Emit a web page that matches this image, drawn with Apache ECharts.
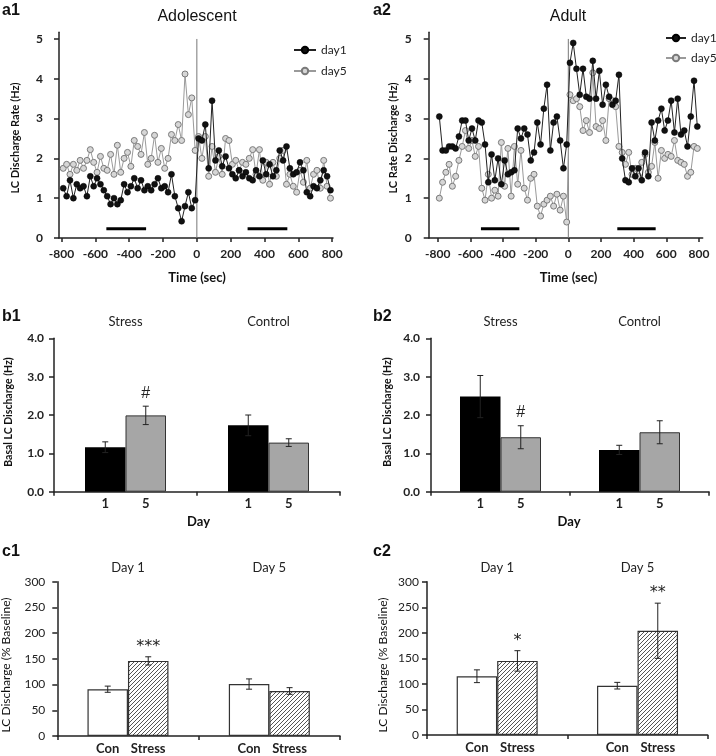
<!DOCTYPE html>
<html><head><meta charset="utf-8">
<script src="https://cdn.jsdelivr.net/npm/echarts@6/dist/echarts.min.js"></script>
<style>html,body{margin:0;padding:0;background:#fff}#c{width:716px;height:756px}</style>
</head><body><div id="c"></div>
<script>
// ---------- DATA ----------
const times = [-790,-770,-750,-730,-710,-690,-670,-650,-630,-610,-590,-570,-550,-530,-510,-490,-470,-450,-430,-410,-390,-370,-350,-330,-310,-290,-270,-250,-230,-210,-190,-170,-150,-130,-110,-90,-70,-50,-30,-10,
  10,30,50,70,90,110,130,150,170,190,210,230,250,270,290,310,330,350,370,390,410,430,450,470,490,510,530,550,570,590,610,630,650,670,690,710,730,750,770,790];
const timeTickLabels = [-800,-600,-400,-200,0,200,400,600,800];
const rateTickLabels = [0,1,2,3,4,5];
const a1Day1 = [1.25,1.05,1.45,1.0,1.35,1.25,1.3,1.05,1.55,1.3,1.5,1.35,1.2,1.05,0.85,1.0,0.85,0.95,1.35,1.15,1.3,1.5,1.25,1.45,1.2,1.3,1.2,1.35,1.5,1.25,1.3,1.15,1.6,1.05,0.75,0.42,0.8,1.15,0.75,0.95,
  2.5,2.45,2.85,1.75,3.45,1.95,2.2,1.8,2.05,1.75,1.6,1.5,1.7,1.55,1.65,1.5,1.45,1.7,1.55,1.95,1.6,1.85,1.55,1.7,2.2,1.95,2.3,1.75,1.6,1.65,1.9,1.7,1.15,1.05,1.3,1.25,1.45,1.7,1.55,1.2];
const a1Day5 = [1.75,1.85,1.6,1.85,1.7,1.95,1.75,1.95,2.22,1.9,1.65,2.05,1.75,1.7,2.1,1.6,2.33,1.65,2.0,2.15,1.8,2.45,2.3,2.1,2.65,1.85,2.0,2.58,1.9,2.25,1.75,2.0,2.6,2.45,2.85,2.45,4.12,3.1,3.52,2.2,
  2.55,2.0,2.55,1.55,2.3,1.65,2.05,1.6,2.5,2.45,1.85,1.95,1.7,1.9,1.85,2.0,2.22,1.6,2.22,1.45,1.9,1.35,1.9,1.55,2.0,2.2,1.35,1.6,1.3,1.15,1.7,1.4,1.95,1.25,1.6,1.7,1.25,1.95,1.3,1.0];
const a2Day1 = [3.05,2.2,2.2,2.3,2.3,2.25,2.55,2.95,2.95,2.45,2.75,2.45,2.95,2.9,2.35,1.4,2.1,1.45,2.0,1.35,1.95,1.6,1.65,1.7,2.75,2.5,2.75,2.6,1.95,2.15,2.9,2.35,3.25,3.85,2.2,2.9,3.05,2.45,1.75,2.35,
  4.4,4.9,4.25,3.6,4.25,3.55,3.5,4.45,3.5,4.2,3.35,3.85,3.55,3.35,3.45,4.1,2.0,1.45,1.4,1.75,1.55,1.75,1.45,2.15,1.55,2.9,2.45,2.95,3.25,2.7,2.95,3.45,2.65,3.5,2.6,2.7,2.3,3.05,3.95,2.8];
const a2Day5 = [1.0,1.4,1.65,1.85,1.3,1.55,1.95,2.3,2.7,2.25,2.45,2.05,2.3,1.25,0.95,1.6,1.0,1.2,1.05,2.4,1.3,2.25,1.05,2.3,1.35,2.2,1.25,0.95,1.5,1.6,0.8,0.55,0.85,0.95,1.05,0.8,1.1,0.7,1.05,0.4,
  3.6,3.45,3.5,3.3,2.7,2.95,2.65,4.15,2.8,2.75,2.95,2.45,3.5,3.45,3.3,2.3,2.15,1.85,2.15,1.6,1.75,1.55,1.9,2.1,1.65,1.8,2.4,1.5,2.2,2.0,2.1,2.05,2.45,1.95,1.9,1.85,1.55,1.65,2.3,2.25];
const stimTime = [0, 0];
const stimRange = [0, 5];
const baselineWindow = [-535, -300];
const postWindow = [300, 535];
const windowLevel = 0.23;

const bCats = ['Stress', 'Control'];
const b1Day1 = [1.16, 1.73], b1Day1Err = [0.14, 0.27];
const b1Day5 = [1.99, 1.28], b1Day5Err = [0.24, 0.10];
const b2Day1 = [2.48, 1.09], b2Day1Err = [0.55, 0.12];
const b2Day5 = [1.42, 1.55], b2Day5Err = [0.30, 0.30];
const b1Marks = ['#', ''], b2Marks = ['#', ''];

const cCats = ['Day 1', 'Day 5'];
const c1Con = [91, 101], c1ConErr = [6, 10];
const c1Stress = [146, 87.5], c1StressErr = [8, 6.5];
const c2Con = [115, 96.5], c2ConErr = [12.5, 6.5];
const c2Stress = [145, 204], c2StressErr = [20, 54];
const c1Marks = ['***', ''], c2Marks = ['*', '**'];

// ---------- STYLE / HELPERS ----------
const FONT = 'Lato, "Open Sans", sans-serif';
const AX = '#222';
const BW = 40.5;

function hatch() {
  const c = document.createElement('canvas'); c.width = 4; c.height = 4;
  const g = c.getContext('2d');
  g.fillStyle = '#fff'; g.fillRect(0, 0, 4, 4);
  g.strokeStyle = '#555'; g.lineWidth = 1;
  g.beginPath();
  g.moveTo(0, 4); g.lineTo(4, 0);
  g.moveTo(-1, 1); g.lineTo(1, -1);
  g.moveTo(3, 5); g.lineTo(5, 3);
  g.stroke();
  return c;
}
const hatchPattern = { image: hatch(), repeat: 'repeat' };

function pairs(xs, ys) { return xs.map((x, i) => [x, ys[i]]); }

function timeXAxis(grid, min, max) {
  return { type: 'value', gridIndex: grid, min: min, max: max,
    axisLine: { show: true, onZero: false, lineStyle: { color: AX, width: 1.5 } },
    axisTick: { show: true, length: 4, customValues: timeTickLabels, lineStyle: { color: AX, width: 1.5 } },
    axisLabel: { customValues: timeTickLabels, margin: 10, fontWeight: 'bold', fontSize: 12, color: AX, fontFamily: FONT },
    splitLine: { show: false } };
}
function rateYAxis(grid, margin) {
  return { type: 'value', gridIndex: grid, min: 0, max: 5.17,
    axisLine: { show: true, onZero: false, lineStyle: { color: AX, width: 1.5 } },
    axisTick: { show: true, length: 5, customValues: rateTickLabels, lineStyle: { color: AX, width: 1.5 } },
    axisLabel: { customValues: rateTickLabels, margin: margin, fontWeight: 'bold', fontSize: 12, color: AX, fontFamily: FONT },
    splitLine: { show: false } };
}
function catXAxis(grid, cats) {
  return { type: 'category', gridIndex: grid, data: cats,
    axisLine: { show: true, onZero: false, lineStyle: { color: AX, width: 1.5 } },
    axisTick: { show: true, length: 4, lineStyle: { color: AX, width: 1.5 } },
    axisLabel: { show: false }, splitLine: { show: false } };
}
function headerAxis(grid, cats, margin) {
  return { type: 'category', gridIndex: grid, data: cats, position: 'top',
    axisLine: { show: false }, axisTick: { show: false },
    axisLabel: { show: true, interval: 0, margin: margin, fontSize: 13, color: AX, fontFamily: FONT },
    splitLine: { show: false } };
}
function barYAxis(grid, max, interval, digits, margin, bold) {
  return { type: 'value', gridIndex: grid, min: 0, max: max, interval: interval,
    axisLine: { show: true, onZero: false, lineStyle: { color: AX, width: 1.5 } },
    axisTick: { show: true, length: 5, lineStyle: { color: AX, width: 1.5 } },
    axisLabel: { margin: margin, fontWeight: bold ? 'bold' : 'normal', fontSize: 12, color: AX, fontFamily: FONT,
      formatter: v => v.toFixed(digits) },
    splitLine: { show: false } };
}

function timeSeries(name, xi, xs, ys, dark) {
  return { type: 'line', name: name, xAxisIndex: xi, yAxisIndex: xi, data: pairs(xs, ys),
    symbol: 'circle', symbolSize: 6, showSymbol: true, showAllSymbol: true, animation: false,
    z: dark ? 4 : 3,
    lineStyle: { color: dark ? '#222' : '#9a9a9a', width: 1 },
    itemStyle: dark ? { color: '#111', borderColor: '#000', borderWidth: 0.5 }
                    : { color: '#d6d6d6', borderColor: '#7a7a7a', borderWidth: 1 } };
}
function segSeries(xi, xs, ys, color, width) {
  return { type: 'line', name: 'seg' + xi + xs[0], xAxisIndex: xi, yAxisIndex: xi, data: pairs(xs, ys),
    symbol: 'none', animation: false, silent: true, z: 2, lineStyle: { color: color, width: width } };
}
function barSeries(xi, data, label, style) {
  return { type: 'bar', name: 'bar' + xi + label, xAxisIndex: xi, yAxisIndex: xi, data: data,
    barWidth: BW, barGap: '0%', animation: false, itemStyle: style,
    label: { show: true, position: 'bottom', distance: 6, formatter: label,
      fontWeight: 'bold', fontSize: 13, color: AX, fontFamily: FONT } };
}
function errSeries(xi, vals, errs, offset, marks) {
  return { type: 'custom', xAxisIndex: xi, yAxisIndex: xi, animation: false, z: 5, silent: true,
    data: vals.map((v, i) => [i, v, errs[i]]),
    renderItem: function (params, api) {
      const i = params.dataIndex;
      const cat = api.value(0), v = api.value(1), e = api.value(2);
      const top = api.coord([cat, v + e]);
      const bot = api.coord([cat, v - e]);
      const x = top[0] + offset;
      const st = { stroke: '#222', lineWidth: 1 };
      const ch = [
        { type: 'line', shape: { x1: x, y1: top[1], x2: x, y2: bot[1] }, style: st },
        { type: 'line', shape: { x1: x - 3, y1: top[1], x2: x + 3, y2: top[1] }, style: st },
        { type: 'line', shape: { x1: x - 3, y1: bot[1], x2: x + 3, y2: bot[1] }, style: st }
      ];
      const m = marks ? marks[i] : '';
      if (m) {
        const star = m[0] === '*';
        ch.push({ type: 'text', x: x, y: top[1] - (star ? 10 : 13),
          style: { text: m, fill: '#222', align: 'center', verticalAlign: 'middle',
            font: star ? '16px "DejaVu Sans"' : '16px "Liberation Sans"' } });
      }
      return { type: 'group', children: ch };
    } };
}

function txt(x, y, s, font, rot) {
  return { type: 'text', x: x, y: y, rotation: rot || 0, silent: true,
    style: { text: s, font: font, fill: '#111', align: 'center', verticalAlign: 'middle' } };
}
function lbl(x, y, s) {
  return { type: 'text', x: x, y: y, silent: true,
    style: { text: s, font: 'bold 16px "Liberation Sans"', fill: '#111', align: 'left', verticalAlign: 'middle' } };
}
const R = Math.PI / 2;

const option = {
  animation: false,
  backgroundColor: '#fff',
  textStyle: { fontFamily: FONT },
  grid: [
    { left: 59, top: 32.2, width: 274, height: 205.8, outerBoundsMode: 'none' },
    { left: 428.7, top: 32.2, width: 274, height: 205.8, outerBoundsMode: 'none' },
    { left: 54, top: 338.3, width: 286, height: 153.4, outerBoundsMode: 'none' },
    { left: 431, top: 338.3, width: 278, height: 153.4, outerBoundsMode: 'none' },
    { left: 57.3, top: 581.7, width: 282.7, height: 154.3, outerBoundsMode: 'none' },
    { left: 427, top: 581.7, width: 280.7, height: 153.3, outerBoundsMode: 'none' }
  ],
  xAxis: [
    timeXAxis(0, -815, 805),
    timeXAxis(1, -855, 823),
    catXAxis(2, bCats), catXAxis(3, bCats), catXAxis(4, cCats), catXAxis(5, cCats),
    headerAxis(2, bCats, 10), headerAxis(3, bCats, 10), headerAxis(4, cCats, 7), headerAxis(5, cCats, 7)
  ],
  yAxis: [
    rateYAxis(0, 16), rateYAxis(1, 17),
    barYAxis(2, 4, 1, 1, 10, true), barYAxis(3, 4, 1, 1, 11, true),
    barYAxis(4, 300, 50, 0, 12, false), barYAxis(5, 300, 50, 0, 8, false)
  ],
  legend: [
    { data: ['day1', 'day5'], orient: 'vertical', left: 288, top: 39, itemWidth: 22, itemHeight: 8, itemGap: 9,
      textStyle: { fontSize: 12, color: '#222', fontFamily: FONT }, selectedMode: false },
    { data: ['day1', 'day5'], orient: 'vertical', left: 660, top: 27, itemWidth: 20, itemHeight: 8, itemGap: 8,
      textStyle: { fontSize: 12, color: '#222', fontFamily: FONT }, selectedMode: false }
  ],
  series: [
    segSeries(0, stimTime, stimRange, '#777', 1),
    segSeries(0, baselineWindow, [windowLevel, windowLevel], '#000', 3),
    segSeries(0, postWindow, [windowLevel, windowLevel], '#000', 3),
    timeSeries('day5', 0, times, a1Day5, false),
    timeSeries('day1', 0, times, a1Day1, true),
    segSeries(1, stimTime, stimRange, '#777', 1),
    segSeries(1, baselineWindow, [windowLevel, windowLevel], '#000', 3),
    segSeries(1, postWindow, [windowLevel, windowLevel], '#000', 3),
    timeSeries('day5', 1, times, a2Day5, false),
    timeSeries('day1', 1, times, a2Day1, true),

    barSeries(2, b1Day1, '1', { color: '#000' }),
    barSeries(2, b1Day5, '5', { color: '#a6a6a6', borderColor: '#333', borderWidth: 1 }),
    errSeries(2, b1Day1, b1Day1Err, -BW / 2, null),
    errSeries(2, b1Day5, b1Day5Err, BW / 2, b1Marks),
    barSeries(3, b2Day1, '1', { color: '#000' }),
    barSeries(3, b2Day5, '5', { color: '#a6a6a6', borderColor: '#333', borderWidth: 1 }),
    errSeries(3, b2Day1, b2Day1Err, -BW / 2, null),
    errSeries(3, b2Day5, b2Day5Err, BW / 2, b2Marks),

    barSeries(4, c1Con, 'Con', { color: '#fff', borderColor: '#333', borderWidth: 1.2 }),
    barSeries(4, c1Stress, 'Stress', { color: hatchPattern, borderColor: '#333', borderWidth: 1.2 }),
    errSeries(4, c1Con, c1ConErr, -BW / 2, null),
    errSeries(4, c1Stress, c1StressErr, BW / 2, c1Marks),
    barSeries(5, c2Con, 'Con', { color: '#fff', borderColor: '#333', borderWidth: 1.2 }),
    barSeries(5, c2Stress, 'Stress', { color: hatchPattern, borderColor: '#333', borderWidth: 1.2 }),
    errSeries(5, c2Con, c2ConErr, -BW / 2, null),
    errSeries(5, c2Stress, c2StressErr, BW / 2, c2Marks)
  ],
  graphic: { elements: [
    lbl(2, 11, 'a1'), lbl(373, 11, 'a2'), lbl(2, 317, 'b1'), lbl(373, 317, 'b2'), lbl(2, 552, 'c1'), lbl(373, 552, 'c2'),
    txt(197, 17, 'Adolescent', '16px "Liberation Sans"'),
    txt(568, 17, 'Adult', '16px "Liberation Sans"'),
    txt(197, 278, 'Time (sec)', 'bold 13px ' + FONT),
    txt(568.5, 278, 'Time (sec)', 'bold 13px ' + FONT),
    txt(15, 138, 'LC Discharge Rate (Hz)', 'bold 11px ' + FONT, R),
    txt(393, 138, 'LC Rate Discharge (Hz)', 'bold 11px ' + FONT, R),
    txt(8.5, 412, 'Basal LC Discharge (Hz)', 'bold 10.5px ' + FONT, R),
    txt(388, 412, 'Basal LC Discharge (Hz)', 'bold 10.5px ' + FONT, R),
    txt(198.5, 522, 'Day', 'bold 13px ' + FONT),
    txt(569, 522, 'Day', 'bold 13px ' + FONT),
    txt(6, 665, 'LC Discharge (% Baseline)', '12px ' + FONT, R),
    txt(383, 665, 'LC Discharge (% Baseline)', '12px ' + FONT, R)
  ] }
};

const chart = echarts.init(document.getElementById('c'), null, { renderer: 'canvas' });
chart.setOption(option);
</script>
</body></html>
